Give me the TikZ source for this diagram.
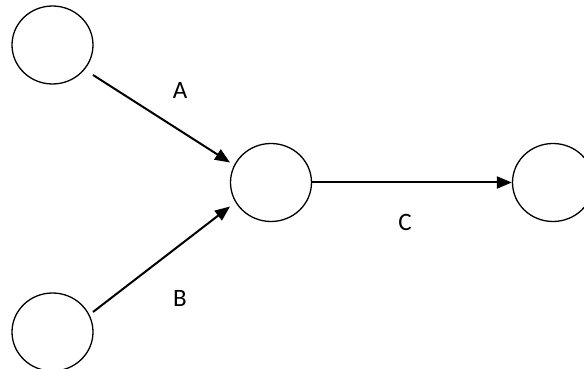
\documentclass[tikz,border=0pt]{standalone}
\usepackage{fontspec}
\setmainfont{Carlito}
\usetikzlibrary{shapes.geometric,arrows.meta,calc}
\begin{document}
\begin{tikzpicture}[x=1pt,y=1pt,
  ev/.style={draw=black,ellipse,line width=1.3pt,minimum width=81pt,minimum height=78pt,inner sep=0pt,fill=white},
  arr/.style={draw=black,line width=2pt,-{Triangle[length=15pt,width=12pt]}},
  lbl/.style={inner sep=0pt,font=\fontsize{25}{30}\selectfont}]
\useasboundingbox (0,0) rectangle (584,369);
\clip (0,0) rectangle (584,369);
\node[ev] (n1) at (52.5,324) {};
\node[ev] (n2) at (271,186.5) {};
\node[ev] (n3) at (553,186.5) {};
\node[ev] (n4) at (52.5,37) {};
\draw[arr] ($(n1.center)+(40.5,-30)$) -- ($(n2.center)+(-41,20)$);
\draw[arr] ($(n4.center)+(40.5,20)$) -- ($(n2.center)+(-41,-24)$);
\draw[arr] (n2.east) -- (n3.west);
\node[lbl] (la) at (180,278.5) {A};
\node[lbl] (lb) at (180,71) {B};
\node[lbl] (lc) at (405,146.5) {C};
\end{tikzpicture}
\end{document}
